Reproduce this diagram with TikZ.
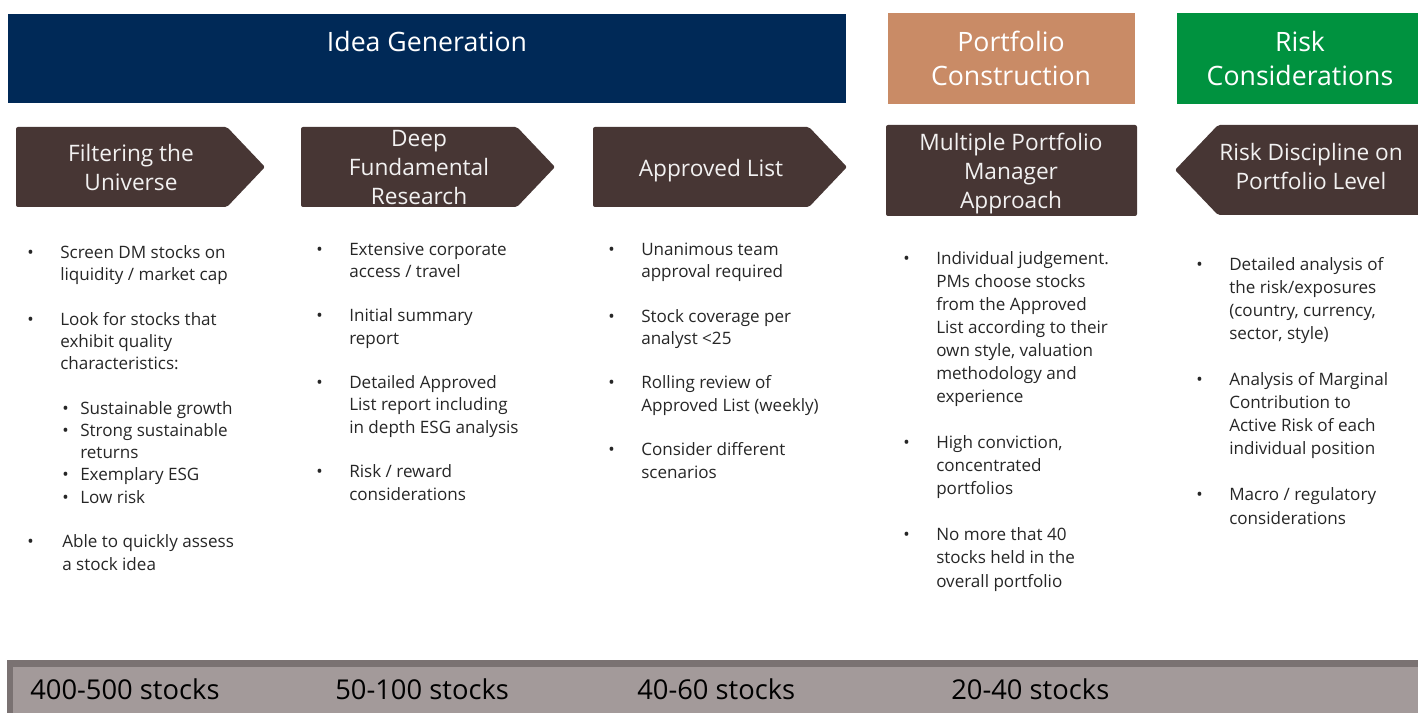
\documentclass[tikz,border=0pt]{standalone}
\usepackage{fontspec}
\setmainfont{Open Sans}
\usepackage{xcolor}
\usetikzlibrary{positioning}

\definecolor{ideablue}{HTML}{002957}
\definecolor{constrtan}{HTML}{C98B66}
\definecolor{riskgreen}{HTML}{00923F}
\definecolor{stepbrown}{HTML}{473634}
\definecolor{notegray}{HTML}{262626}
\definecolor{barfill}{HTML}{A39A9A}
\definecolor{baredge}{HTML}{7A7272}

% bullet helpers for the text columns
\newcommand{\bul}{\makebox[24.75pt][l]{\textbullet}}
\newcommand{\cont}{\hspace*{24.75pt}}
\newcommand{\subbul}{\hspace*{1.5pt}\makebox[13.5pt][l]{\textbullet}}
\newcommand{\subcont}{\hspace*{15pt}}
\newcommand{\gap}{\\[\baselineskip]}

\begin{document}
\begin{tikzpicture}[
    x=0.75pt, y=-0.75pt,
    % multi-line nodes sit on the baseline of their last line
    phase/.style={text=white, font=\fontsize{20}{26}\selectfont, align=center, anchor=base, inner sep=0pt},
    stepbox/.style={fill=stepbrown, rounded corners=1.5pt},
    steptext/.style={text=white!93!stepbrown, font=\fontsize{17}{22}\selectfont, align=center, anchor=base, inner sep=0pt},
    notes/.style={anchor=base west, align=left, inner sep=0pt, text=notegray, font=\fontsize{12.8}{16.7}\selectfont},
    widenotes/.style={notes, font=\fontsize{12.8}{17.3}\selectfont},
    count/.style={anchor=base west, inner sep=0pt, font=\fontsize{20.5}{24}\selectfont}
]
\useasboundingbox (0,0) rectangle (1418,713);

% phase headers
\fill[ideablue] (8,14) rectangle (846,103);
\fill[constrtan] (888,13) rectangle (1135,104);
\fill[riskgreen] (1177,13) rectangle (1422,104);
\node[phase] (idea) at (427,52) {Idea Generation};
\node[phase] (constr) at (1011,86) {Portfolio\\Construction};
\node[phase] (riskcons) at (1300,86) {Risk\\Considerations};

% process steps
\fill[stepbox] (16,127) -- (227,127) -- (265,167) -- (227,207) -- (16,207) -- cycle;
\fill[stepbox] (301,127) -- (517,127) -- (555,167) -- (517,207) -- (301,207) -- cycle;
\fill[stepbox] (593,127) -- (809,127) -- (847,167) -- (809,207) -- (593,207) -- cycle;
\fill[stepbox] (886,125) rectangle (1137,216);
\fill[stepbox] (1175,170) -- (1218,125) -- (1424,125) -- (1424,215) -- (1218,215) -- cycle;

\node[steptext] (filter) at (131,191) {Filtering the\\Universe};
\node[steptext] (deep) at (419,205) {Deep\\Fundamental\\Research};
\node[steptext] (approved) at (711,177) {Approved List};
\node[steptext] (multi) at (1011,209) {Multiple Portfolio\\Manager\\Approach};
\node[steptext] (riskdisc) at (1311,190) {Risk Discipline on\\Portfolio Level};

% bullet columns
\node[notes] (filternotes) at (27,570) {%
\bul Screen DM stocks on\\
\cont liquidity / market cap\gap
\bul Look for stocks that\\
\cont exhibit quality\\
\cont characteristics:\gap
\cont\subbul Sustainable growth\\
\cont\subbul Strong sustainable\\
\cont\subcont returns\\
\cont\subbul Exemplary ESG\\
\cont\subbul Low risk\gap
\bul\hspace*{1.5pt}Able to quickly assess\\
\cont\hspace*{1.5pt}a stock idea};

\node[notes] (deepnotes) at (316,500) {%
\bul Extensive corporate\\
\cont access / travel\gap
\bul Initial summary\\
\cont report\gap
\bul Detailed Approved\\
\cont List report including\\
\cont in depth ESG analysis\gap
\bul Risk / reward\\
\cont considerations};

\node[notes] (approvednotes) at (608,478) {%
\bul Unanimous team\\
\cont approval required\gap
\bul Stock coverage per\\
\cont analyst <25\gap
\bul Rolling review of\\
\cont Approved List (weekly)\gap
\bul Consider different\\
\cont scenarios};

\node[widenotes] (multinotes) at (903,587) {%
\bul Individual judgement.\\
\cont PMs choose stocks\\
\cont from the Approved\\
\cont List according to their\\
\cont own style, valuation\\
\cont methodology and\\
\cont experience\gap
\bul High conviction,\\
\cont concentrated\\
\cont portfolios\gap
\bul No more that 40\\
\cont stocks held in the\\
\cont overall portfolio};

\node[widenotes] (risknotes) at (1196,524) {%
\bul Detailed analysis of\\
\cont the risk/exposures\\
\cont (country, currency,\\
\cont sector, style)\gap
\bul Analysis of Marginal\\
\cont Contribution to\\
\cont Active Risk of each\\
\cont individual position\gap
\bul Macro / regulatory\\
\cont considerations};

% stock count bar
\fill[baredge] (7,660) rectangle (1424,716);
\fill[barfill] (13,667) rectangle (1424,716);
\node[count] (countA) at (30,699) {400-500 stocks};
\node[count] (countB) at (335,699) {50-100 stocks};
\node[count] (countC) at (637,699) {40-60 stocks};
\node[count] (countD) at (951,699) {20-40 stocks};

\end{tikzpicture}
\end{document}
